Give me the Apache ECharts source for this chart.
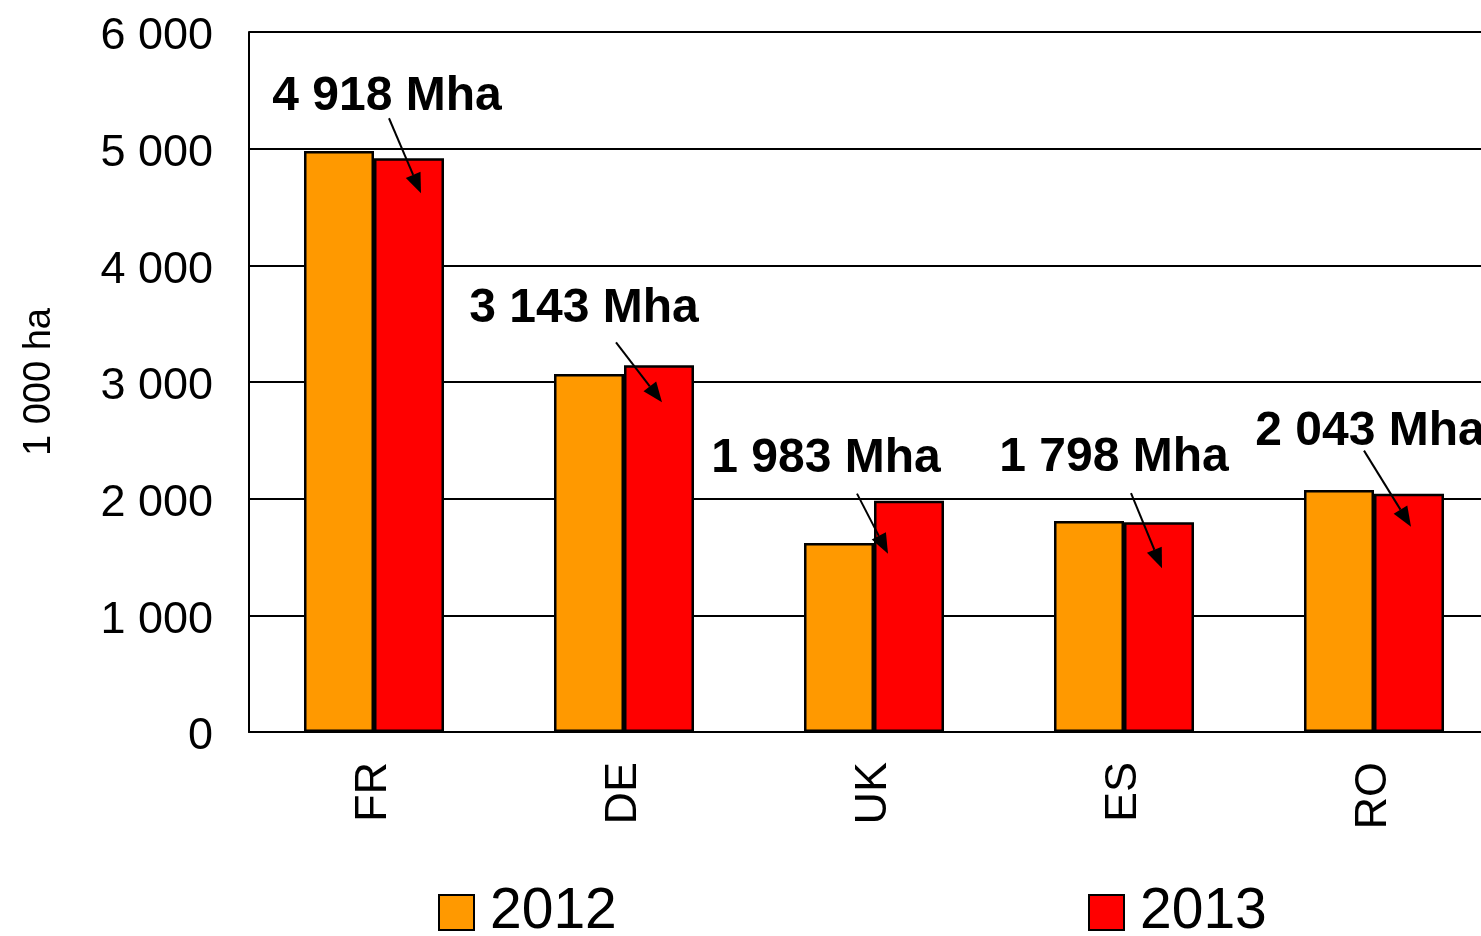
<!DOCTYPE html>
<html>
<head>
<meta charset="utf-8">
<script src="https://cdn.jsdelivr.net/npm/echarts@6/dist/echarts.min.js"></script>
<style>
html,body{margin:0;padding:0;background:#fff;}
#chart{width:1481px;height:936px;}
</style>
</head>
<body>
<div id="chart"></div>
<script>
// ---- data ----
var categories = ['FR', 'DE', 'UK', 'ES', 'RO'];
var values2012 = [4980, 3068, 1620, 1808, 2074];
var values2013 = [4918, 3143, 1983, 1798, 2043];
var seriesNames = ['2012', '2013'];
var yTicks = [0, 1000, 2000, 3000, 4000, 5000, 6000];
var yTitle = '1 000 ha';
var annoUnit = ' Mha';

// ---- annotation layout (pixel offsets relative to the 2013 bar top centre) ----
// [textDx, textDy, arrowStartDx, arrowStartDy, arrowTipDx, arrowTipDy]
var annoLayout = [
  [-22, -61, -20, -40, 12, 35],
  [-75, -57, -43, -23, 3, 37],
  [-83, -42, -52, -7, -21, 53],
  [-45, -64, -28, -29, 3, 46],
  [-39, -62, -45, -43, 2, 33]
];

var FONT = '"Liberation Sans", Arial, sans-serif';
var BAR_W = 70;

function fmt(v) {
  var s = String(Math.round(v));
  return s.replace(/\B(?=(\d{3})+(?!\d))/g, ' ');
}

var annoData = categories.map(function (c, i) { return [i, values2013[i]]; });

var chart = echarts.init(document.getElementById('chart'));
chart.setOption({
  animation: false,
  backgroundColor: '#fff',
  grid: { left: 249, top: 32, right: -18, bottom: 204, containLabel: false, outerBoundsMode: 'none' },
  legend: [
    {
      left: 438, top: 884, itemWidth: 35, itemHeight: 35, padding: 0, icon: 'rect',
      data: ['2012'], selectedMode: false,
      textStyle: { fontSize: 57, fontFamily: FONT, color: '#000', padding: [0, 0, 0, 11] }
    },
    {
      left: 1088, top: 884, itemWidth: 35, itemHeight: 35, padding: 0, icon: 'rect',
      data: ['2013'], selectedMode: false,
      textStyle: { fontSize: 57, fontFamily: FONT, color: '#000', padding: [0, 0, 0, 11] }
    }
  ],
  xAxis: {
    type: 'category',
    data: categories,
    axisLine: { show: true, lineStyle: { color: '#000', width: 2 } },
    axisTick: { show: false },
    axisLabel: { rotate: 90, fontSize: 45, fontFamily: FONT, color: '#000', margin: 30 }
  },
  yAxis: {
    type: 'value',
    min: yTicks[0], max: yTicks[yTicks.length - 1], interval: yTicks[1] - yTicks[0],
    name: yTitle, nameLocation: 'middle', nameRotate: 90, nameGap: 190,
    nameTextStyle: { fontSize: 38, fontFamily: FONT, color: '#000' },
    axisLine: { show: true, lineStyle: { color: '#000', width: 2 } },
    axisTick: { show: false },
    splitLine: { show: true, lineStyle: { color: '#000', width: 2 } },
    axisLabel: {
      fontSize: 45, fontFamily: FONT, color: '#000', margin: 36,
      formatter: function (v) { return '{a|' + fmt(v) + '}'; },
      rich: { a: { fontSize: 45, fontFamily: FONT, color: '#000', padding: [10, 0, 0, 0] } }
    }
  },
  series: [
    {
      name: seriesNames[0], type: 'bar', data: values2012,
      barWidth: BAR_W, barGap: '0%',
      itemStyle: { color: '#FF9900', borderColor: '#000', borderWidth: 2.5 }
    },
    {
      name: seriesNames[1], type: 'bar', data: values2013,
      barWidth: BAR_W, barGap: '0%',
      itemStyle: { color: '#FF0000', borderColor: '#000', borderWidth: 2.5 }
    },
    {
      name: 'annotations', type: 'custom', coordinateSystem: 'cartesian2d',
      data: annoData, z: 10, silent: true,
      encode: { x: 0, y: 1 },
      renderItem: function (params, api) {
        var i = api.value(0), v = api.value(1);
        var p = api.coord([i, v]);
        var bx = p[0] + BAR_W / 2, by = p[1];
        var L = annoLayout[params.dataIndex];
        var sx = bx + L[2], sy = by + L[3];
        var tx = bx + L[4], ty = by + L[5];
        var ang = Math.atan2(ty - sy, tx - sx);
        var hl = 20, hw = 8;
        var baseX = tx - hl * Math.cos(ang), baseY = ty - hl * Math.sin(ang);
        var nx = -Math.sin(ang), ny = Math.cos(ang);
        return {
          type: 'group',
          children: [
            {
              type: 'text',
              style: {
                x: bx + L[0], y: by + L[1],
                text: fmt(v) + annoUnit,
                font: 'bold 48px ' + FONT,
                fill: '#000', align: 'center', verticalAlign: 'middle'
              }
            },
            {
              type: 'line',
              shape: { x1: sx, y1: sy, x2: baseX, y2: baseY },
              style: { stroke: '#000', lineWidth: 2 }
            },
            {
              type: 'polygon',
              shape: { points: [[tx, ty], [baseX + nx * hw, baseY + ny * hw], [baseX - nx * hw, baseY - ny * hw]] },
              style: { fill: '#000' }
            }
          ]
        };
      }
    }
  ]
});
</script>
</body>
</html>
